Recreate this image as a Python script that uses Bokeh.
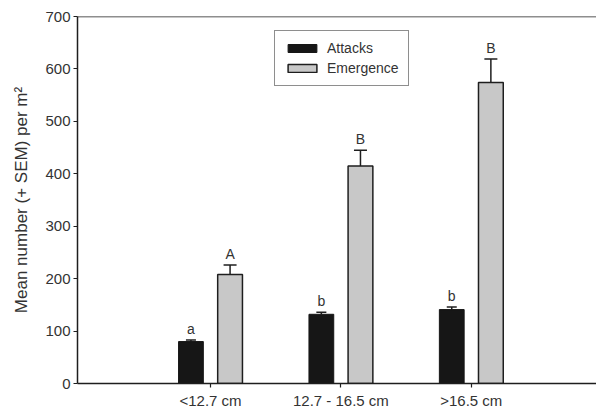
from bokeh.plotting import figure
from bokeh.models import (Range1d, FixedTicker, Span, Whisker, ColumnDataSource,
                          Legend, LegendItem)
from bokeh.core.properties import value
from bokeh.embed import file_html
from bokeh.resources import INLINE

categories = ["<12.7 cm", "12.7 - 16.5 cm", ">16.5 cm"]
attacks = [80, 132, 141]
attacks_sem = [3, 4, 5]
emergence = [208, 415, 574]
emergence_sem = [18, 30, 45]
attacks_letters = ["a", "b", "b"]
emergence_letters = ["A", "B", "B"]
y_ticks = [0, 100, 200, 300, 400, 500, 600, 700]

FONT = "Liberation Sans"
TXT = "#333333"
DARK = "#1e1e1e"

xpos = [i + 1 for i in range(len(categories))]
off = 0.15
bw = 0.19

a_src = ColumnDataSource(dict(
    x=[v - off for v in xpos], top=attacks,
    up=[t + s for t, s in zip(attacks, attacks_sem)], lab=attacks_letters))
e_src = ColumnDataSource(dict(
    x=[v + off for v in xpos], top=emergence,
    up=[t + s for t, s in zip(emergence, emergence_sem)], lab=emergence_letters))

p = figure(width=596, height=411, output_backend="svg", toolbar_location=None,
           x_range=Range1d(-0.02, 3.96), y_range=Range1d(0, 700),
           min_border_left=77, min_border_right=0, min_border_top=16,
           min_border_bottom=28)
p.outline_line_color = None
p.grid.visible = False
p.background_fill_color = "white"
p.border_fill_color = "white"

r_a = p.vbar(x="x", top="top", width=bw, source=a_src, fill_color="#161616",
             line_color="#161616", line_width=1)
r_e = p.vbar(x="x", top="top", width=bw, source=e_src, fill_color="#c8c8c8",
             line_color=DARK, line_width=1.5)

for src, hw in ((a_src, 10), (e_src, 13)):
    w = Whisker(base="x", lower="top", upper="up", source=src,
                line_color=DARK, line_width=1.5)
    w.lower_head = None
    w.upper_head.size = hw
    w.upper_head.line_color = DARK
    w.upper_head.line_width = 1.5
    p.add_layout(w)
    p.text(x="x", y="up", text="lab", source=src, text_align="center",
           text_baseline="bottom", y_offset=-3, text_color=TXT,
           text_font=value(FONT), text_font_size="14px")

p.add_layout(Span(location=700, dimension="width", line_color=DARK, line_width=1.5))

# axes
p.xaxis.ticker = FixedTicker(ticks=xpos)
p.xaxis.major_label_overrides = {x: c for x, c in zip(xpos, categories)}
p.yaxis.ticker = FixedTicker(ticks=y_ticks)
for ax in (p.xaxis[0], p.yaxis[0]):
    ax.axis_line_color = DARK
    ax.axis_line_width = 1.5
    ax.major_tick_line_color = DARK
    ax.major_tick_line_width = 1.2
    ax.major_tick_out = 4
    ax.major_tick_in = 0
    ax.minor_tick_line_color = None
    ax.major_label_text_font = FONT
    ax.major_label_text_font_size = "15px"
    ax.major_label_text_color = TXT
    ax.axis_label_text_font = FONT
    ax.axis_label_text_color = TXT
    ax.axis_label_text_font_style = "normal"
p.xaxis.major_label_standoff = 4
p.yaxis.major_label_standoff = 3
p.yaxis.axis_label = "Mean number (+ SEM) per m\u00b2"
p.yaxis.axis_label_text_font_size = "17px"
p.yaxis.axis_label_standoff = 11

legend = Legend(items=[LegendItem(label="Attacks", renderers=[r_a]),
                       LegendItem(label="Emergence", renderers=[r_e])],
                location=(197, 297), orientation="vertical")
legend.label_text_font = FONT
legend.label_text_font_size = "14px"
legend.label_text_color = TXT
legend.glyph_width = 36
legend.glyph_height = 10
legend.label_height = 14
legend.spacing = 4
legend.padding = 9
legend.margin = 0
legend.label_standoff = 7
legend.border_line_color = DARK
legend.border_line_width = 1.5
legend.background_fill_alpha = 1
p.add_layout(legend, "center")

open("out.html", "w").write(file_html(p, INLINE))
